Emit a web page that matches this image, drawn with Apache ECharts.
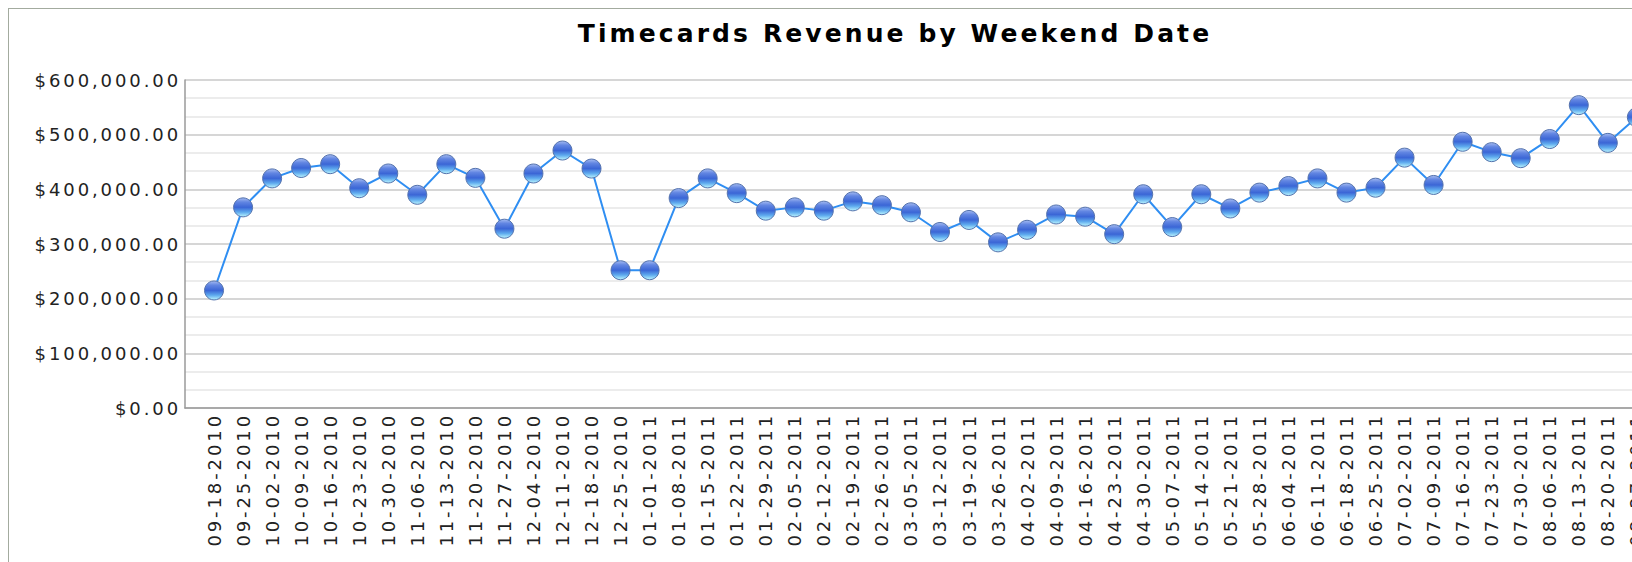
<!DOCTYPE html>
<html>
<head>
<meta charset="utf-8">
<script src="https://cdn.jsdelivr.net/npm/echarts/dist/echarts.min.js"></script>
<style>
  html, body { margin: 0; padding: 0; background: #ffffff; overflow: hidden; width: 1632px; height: 562px; }
  #frame { position: absolute; left: 8px; top: 8px; width: 1772px; height: 700px; border: 1px solid #a3ab9f; box-sizing: border-box; }
  #chart { position: absolute; left: 0; top: 0; width: 1790px; height: 562px; }
  #chart text { letter-spacing: 2.9px; }
  #chart text.ttl { letter-spacing: 3.1px; }
</style>
</head>
<body>
<div id="frame"></div>
<div id="chart"></div>
<script>
const title = 'Timecards Revenue by Weekend Date';
const categories = [
  '09-18-2010','09-25-2010','10-02-2010','10-09-2010','10-16-2010','10-23-2010','10-30-2010',
  '11-06-2010','11-13-2010','11-20-2010','11-27-2010','12-04-2010','12-11-2010','12-18-2010',
  '12-25-2010','01-01-2011','01-08-2011','01-15-2011','01-22-2011','01-29-2011','02-05-2011',
  '02-12-2011','02-19-2011','02-26-2011','03-05-2011','03-12-2011','03-19-2011','03-26-2011',
  '04-02-2011','04-09-2011','04-16-2011','04-23-2011','04-30-2011','05-07-2011','05-14-2011',
  '05-21-2011','05-28-2011','06-04-2011','06-11-2011','06-18-2011','06-25-2011','07-02-2011',
  '07-09-2011','07-16-2011','07-23-2011','07-30-2011','08-06-2011','08-13-2011','08-20-2011',
  '08-27-2011'
];
const revenue = [
  215000, 367000, 420000, 439000, 446000, 402000, 429000,
  390000, 446000, 421000, 328000, 429000, 471000, 438000,
  252000, 252000, 384000, 420000, 393000, 361000, 367000,
  361000, 378000, 371000, 358000, 322000, 344000, 303000,
  326000, 354000, 350000, 318000, 391000, 331000, 391000,
  365000, 394000, 406000, 420000, 394000, 403000, 458000,
  408000, 487000, 468000, 457000, 492000, 554000, 485000,
  532000
];
const yTicks = [0, 100000, 200000, 300000, 400000, 500000, 600000];

const points = categories.map((c, i) => [i, revenue[i]]);

function money(v) {
  return '$' + Number(v).toLocaleString('en-US', { minimumFractionDigits: 2, maximumFractionDigits: 2 });
}

const chart = echarts.init(document.getElementById('chart'), null, { renderer: 'svg' });
chart.setOption({
  animation: false,
  backgroundColor: 'transparent',
  title: {
    text: title,
    left: 'center',
    top: 16,
    textStyle: { fontFamily: 'DejaVu Sans', fontWeight: 'bold', fontSize: 25, color: '#000000' }
  },
  grid: { left: 185, top: 80, right: 37, bottom: 154, containLabel: false },
  xAxis: {
    type: 'value',
    min: -1,
    max: 53,
    interval: 1,
    axisLine: { show: true, onZero: false, lineStyle: { color: '#9a9a9a', width: 1.5 } },
    axisTick: { show: false },
    splitLine: { show: false },
    axisLabel: {
      rotate: 90,
      margin: 5,
      fontFamily: 'DejaVu Sans',
      fontSize: 18,
      color: '#222222',
      showMinLabel: true,
      showMaxLabel: true,
      formatter: function (v) {
        const i = Math.round(v);
        return (i >= 0 && i < categories.length) ? categories[i] : '';
      }
    }
  },
  yAxis: {
    type: 'value',
    min: yTicks[0],
    max: yTicks[yTicks.length - 1],
    interval: 100000,
    axisLine: { show: true, onZero: false, lineStyle: { color: '#9a9a9a', width: 1.5 } },
    axisTick: { show: false },
    axisLabel: {
      margin: 4,
      fontFamily: 'DejaVu Sans',
      fontSize: 18,
      color: '#222222',
      formatter: money
    },
    splitLine: { show: true, lineStyle: { color: '#c9c9c9', width: 1.5 } },
    minorTick: { show: false, splitNumber: 3 },
    minorSplitLine: { show: true, lineStyle: { color: '#e6e6e6', width: 1.5 } }
  },
  series: [{
    type: 'line',
    data: points,
    symbol: 'circle',
    symbolSize: 19,
    showAllSymbol: true,
    lineStyle: { color: '#2f8ef2', width: 2 },
    itemStyle: {
      color: {
        type: 'linear', x: 0, y: 0, x2: 0, y2: 1,
        colorStops: [
          { offset: 0, color: '#a6bcf2' },
          { offset: 0.22, color: '#6286e2' },
          { offset: 0.5, color: '#3b66d6' },
          { offset: 0.75, color: '#5eaaee' },
          { offset: 1, color: '#bdf7ff' }
        ]
      },
      borderColor: '#5573ad',
      borderWidth: 1
    },
    emphasis: { disabled: true }
  }]
});
// mark the title text so it can take its own letter spacing
document.querySelectorAll('#chart text').forEach(function (t) {
  if (t.textContent === title) t.setAttribute('class', 'ttl');
});
</script>
</body>
</html>
